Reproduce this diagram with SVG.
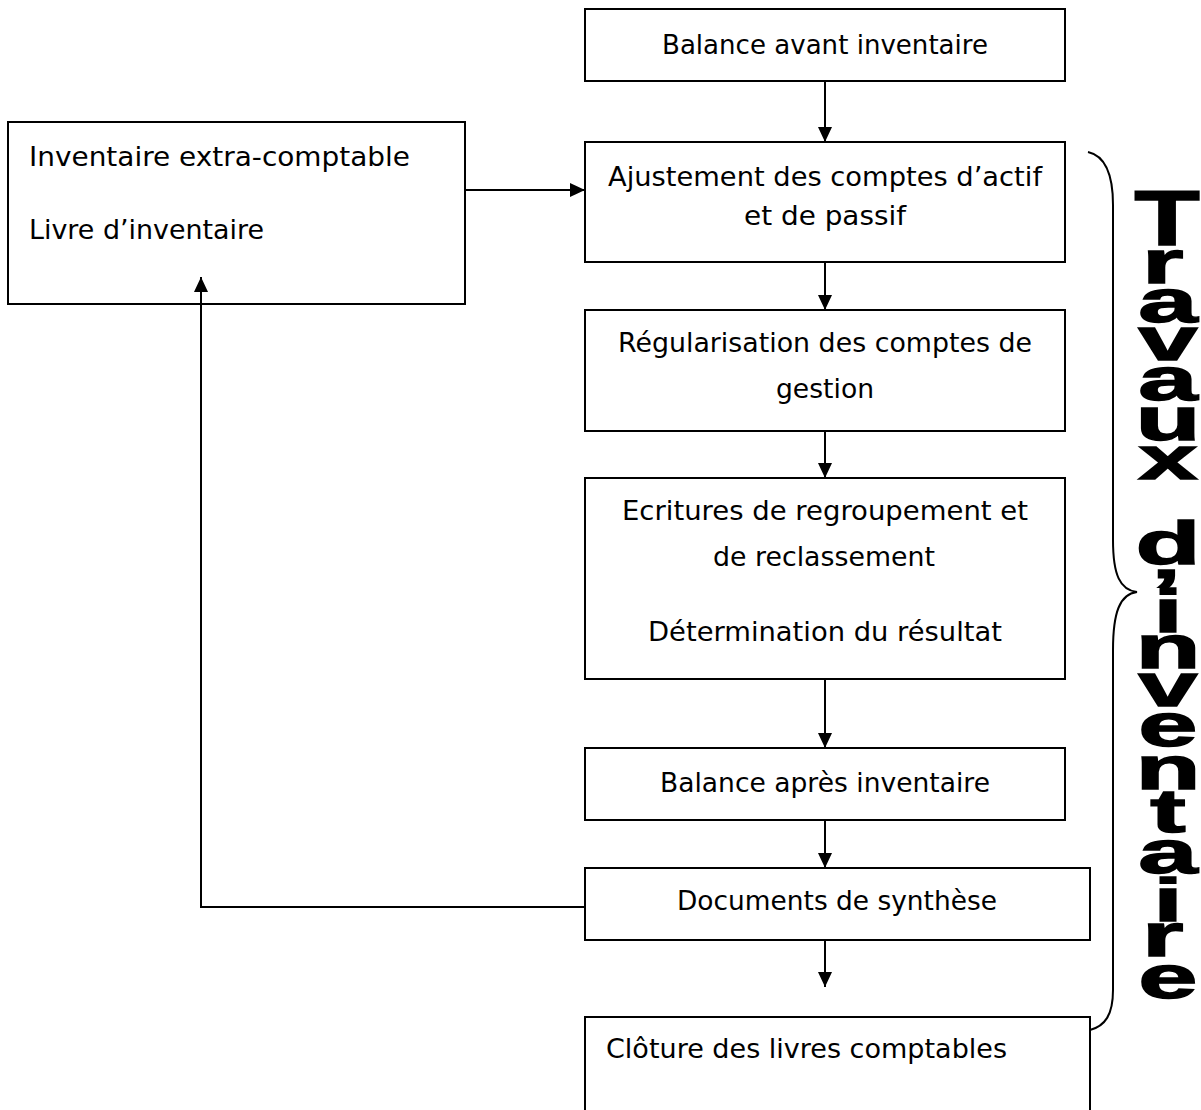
<svg xmlns="http://www.w3.org/2000/svg" width="1201" height="1110" viewBox="0 0 1201 1110">
<defs>
<style>
.box{fill:#fff;stroke:#000;stroke-width:2}
.t{font-family:"DejaVu Sans","Liberation Sans",sans-serif;font-size:27px;fill:#000}
.c{text-anchor:middle}
.ln{fill:none;stroke:#000;stroke-width:2}
.big{font-family:"Liberation Sans",Arial,sans-serif;font-weight:bold;font-size:62px;fill:#000;stroke:#000;stroke-width:1.4;text-anchor:middle}
</style>
<marker id="ah" markerUnits="userSpaceOnUse" markerWidth="16" markerHeight="14" refX="15" refY="7" orient="auto">
<path d="M0,0 L15,7 L0,14 z" fill="#000"/>
</marker>
</defs>
<rect width="1201" height="1110" fill="#fff"/>

<g id="n_balance_avant">
<rect class="box" x="585" y="9" width="480" height="72"/>
<text class="t c" x="825" y="54" textLength="326" lengthAdjust="spacingAndGlyphs">Balance avant inventaire</text>
</g>

<g id="n_inventaire">
<rect class="box" x="8" y="122" width="457" height="182"/>
<text class="t" x="29" y="166" textLength="381" lengthAdjust="spacingAndGlyphs">Inventaire extra-comptable</text>
<text class="t" x="29" y="239" textLength="235" lengthAdjust="spacingAndGlyphs">Livre d’inventaire</text>
</g>

<g id="n_ajustement">
<rect class="box" x="585" y="142" width="480" height="120"/>
<text class="t c" x="825" y="186" textLength="434" lengthAdjust="spacingAndGlyphs">Ajustement des comptes d’actif</text>
<text class="t c" x="825" y="225" textLength="162" lengthAdjust="spacingAndGlyphs">et de passif</text>
</g>

<g id="n_regularisation">
<rect class="box" x="585" y="310" width="480" height="121"/>
<text class="t c" x="825" y="352" textLength="414" lengthAdjust="spacingAndGlyphs">Régularisation des comptes de</text>
<text class="t c" x="825" y="398" textLength="98" lengthAdjust="spacingAndGlyphs">gestion</text>
</g>

<g id="n_ecritures">
<rect class="box" x="585" y="478" width="480" height="201"/>
<text class="t c" x="825" y="520" textLength="406" lengthAdjust="spacingAndGlyphs">Ecritures de regroupement et</text>
<text class="t c" x="824" y="566" textLength="222" lengthAdjust="spacingAndGlyphs">de reclassement</text>
<text class="t c" x="825" y="641" textLength="354" lengthAdjust="spacingAndGlyphs">Détermination du résultat</text>
</g>

<g id="n_balance_apres">
<rect class="box" x="585" y="748" width="480" height="72"/>
<text class="t c" x="825" y="792" textLength="330" lengthAdjust="spacingAndGlyphs">Balance après inventaire</text>
</g>

<g id="n_documents">
<rect class="box" x="585" y="868" width="505" height="72"/>
<text class="t c" x="837" y="910" textLength="320" lengthAdjust="spacingAndGlyphs">Documents de synthèse</text>
</g>

<g id="n_cloture">
<rect class="box" x="585" y="1017" width="505" height="110"/>
<text class="t" x="606" y="1058" textLength="401" lengthAdjust="spacingAndGlyphs">Clôture des livres comptables</text>
</g>

<g id="connectors">
<path class="ln" d="M825,81 L825,142" marker-end="url(#ah)"/>
<path class="ln" d="M825,262 L825,310" marker-end="url(#ah)"/>
<path class="ln" d="M825,431 L825,478" marker-end="url(#ah)"/>
<path class="ln" d="M825,679 L825,748" marker-end="url(#ah)"/>
<path class="ln" d="M825,820 L825,868" marker-end="url(#ah)"/>
<path class="ln" d="M825,940 L825,987" marker-end="url(#ah)"/>
<path class="ln" d="M465,190 L585,190" marker-end="url(#ah)"/>
<path class="ln" d="M585,907 L201,907 L201,277" marker-end="url(#ah)"/>
</g>

<g id="brace">
<path class="ln" d="M1088,152 C1106,156 1113,175 1113,205 L1113,540 C1113,575 1120,590 1137,592 C1120,594 1113,612 1113,650 L1113,990 C1113,1015 1105,1026 1090,1030"/>
</g>

<g id="travaux">
<text class="big" transform="translate(1167,245) scale(1.72,1.25)">T</text>
<g transform="translate(1168,0) scale(1.72,1)">
<text class="big"><tspan x="-3" y="283">r</tspan><tspan x="0" y="322">a</tspan><tspan x="0" y="360">v</tspan><tspan x="0" y="400">a</tspan><tspan x="0" y="440">u</tspan><tspan x="0" y="479">x</tspan><tspan x="0" y="564">d</tspan><tspan x="-1" y="612">’</tspan><tspan x="0" y="632">i</tspan><tspan x="0" y="668">n</tspan><tspan x="0" y="706">v</tspan><tspan x="0" y="746">e</tspan><tspan x="0" y="789">n</tspan><tspan x="0" y="832">t</tspan><tspan x="0" y="873">a</tspan><tspan x="0" y="921">i</tspan><tspan x="-3" y="956">r</tspan><tspan x="0" y="998">e</tspan></text>
</g>
</g>
</svg>
